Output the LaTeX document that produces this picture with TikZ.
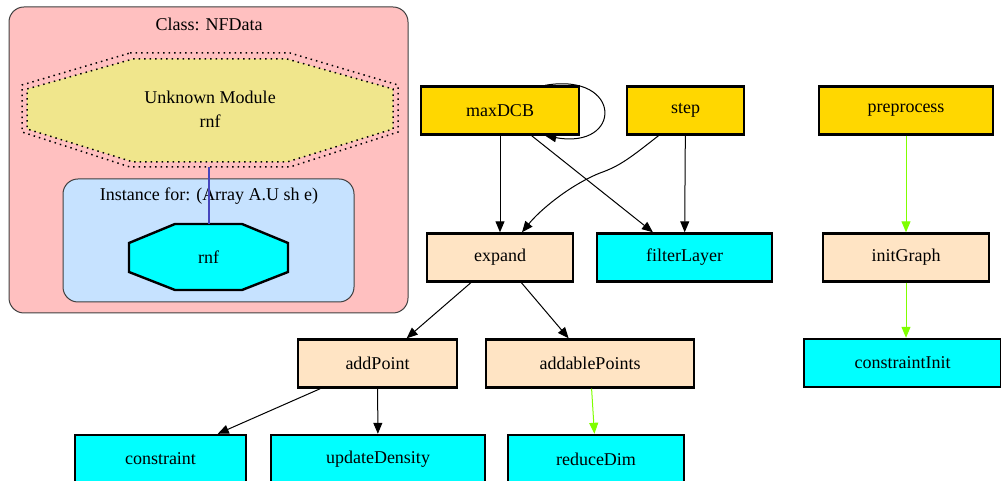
\documentclass[tikz,border=0pt]{standalone}
\usepackage{fontspec}
\setmainfont{Liberation Serif}
\usetikzlibrary{arrows.meta,calc}
\definecolor{clspink}{RGB}{255,192,192}
\definecolor{instblue}{RGB}{198,226,255}
\definecolor{modkhaki}{RGB}{240,230,140}
\definecolor{fngold}{RGB}{255,215,0}
\definecolor{fnbisque}{RGB}{255,228,196}
\definecolor{fncyan}{RGB}{0,255,255}
\definecolor{lgreen}{RGB}{127,255,0}
\definecolor{instline}{RGB}{70,70,190}
\begin{document}
\begin{tikzpicture}[x=1pt,y=1pt,
  font=\fontsize{18}{21}\selectfont,
  fn/.style={draw=black,line width=2.4pt,minimum height=48pt,inner sep=0pt},
  exported/.style={fn,fill=fngold},
  internal/.style={fn,fill=fnbisque},
  leaf/.style={fn,fill=fncyan},
  call/.style={-{Triangle[length=11pt,width=9pt]},line width=1pt},
  local/.style={call,color=lgreen}]
  \useasboundingbox (0,0) rectangle (1001,481);
  \clip (0,0) rectangle (1001,481);
  % Class cluster
  \draw[fill=clspink,draw=black!75,line width=1pt,rounded corners=15pt] (9,168) rectangle (408,474);
  \node (clstitle) at (209,457) {Class: NFData};
  \draw[dash pattern=on 1.5pt off 4pt,line width=1.5pt] (130,428) -- (290,428) -- (398,396) -- (398,349)
    -- (290,314) -- (130,314) -- (22,349) -- (22,396) -- cycle;
  \draw[fill=modkhaki,dash pattern=on 1.5pt off 4pt,line width=1.5pt] (133,422) -- (287,422) -- (393,392)
    -- (393,352) -- (287,319) -- (133,319) -- (27,352) -- (27,392) -- cycle;
  \node[align=center,font=\fontsize{18}{24}\selectfont] (unknown) at (210,372) {Unknown Module\\rnf};
  % Instance cluster
  \draw[fill=instblue,draw=black!75,line width=1pt,rounded corners=15pt] (63,179) rectangle (354,302);
  \node (insttitle) at (209,285) {Instance for: (Array A.U sh e)};
  \draw[fill=fncyan,line width=2.4pt] (175,257) -- (242,257) -- (288,238) -- (288,209) -- (242,191)
    -- (175,191) -- (129,209) -- (129,238) -- cycle;
  \node (rnf) at (208.5,224) {rnf};
  \coordinate (unkbot) at (209,314);
  \coordinate (rnftop) at (209,257);
  \draw[instline,line width=1.2pt] (unkbot) -- (rnftop);
  % Functions
  \node[exported,minimum width=158pt] (maxDCB) at (500,370.5) {maxDCB};
  \node[exported,minimum width=117pt] (step) at (685.5,370.5) {step};
  \node[exported,minimum width=174pt] (preprocess) at (906,370.5) {preprocess};
  \node[internal,minimum width=146pt] (expand) at (500,223.5) {expand};
  \node[leaf,minimum width=175pt] (filterLayer) at (684.5,223.5) {filterLayer};
  \node[internal,minimum width=166pt] (initGraph) at (906,223.5) {initGraph};
  \node[internal,minimum width=159pt] (addPoint) at (377.5,117.5) {addPoint};
  \node[internal,minimum width=208pt] (addablePoints) at (590,117.5) {addablePoints};
  \node[leaf,minimum width=197pt] (constraintInit) at (902.5,118) {constraintInit};
  \node[leaf,minimum width=171pt] (constraint) at (160.5,22) {constraint};
  \node[leaf,minimum width=214pt] (updateDensity) at (378,22) {updateDensity};
  \node[leaf,minimum width=176pt] (reduceDim) at (596,22) {reduceDim};
  % Calls
  \draw[call] ($(maxDCB.north east)+(-35,0)$) .. controls (623,409) and (623,331) .. ($(maxDCB.south east)+(-35,0)$);
  \draw[call] (maxDCB) -- (expand);
  \draw[call] (maxDCB) -- (filterLayer);
  \draw[call] ($(step.south)+(-27,0)$) .. controls (630,323) and (620,315) .. (600,308)
    .. controls (570,296) and (540,271) .. ($(expand.north)+(22,0)$);
  \draw[call] (step) -- (filterLayer);
  \draw[call] (expand) -- (addPoint);
  \draw[call] (expand) -- (addablePoints);
  \draw[call] (addPoint) -- (constraint);
  \draw[call] (addPoint) -- (updateDensity);
  \draw[local] (addablePoints) -- (reduceDim);
  \draw[local] (preprocess) -- (initGraph);
  \draw[local] (initGraph.south) -- (initGraph.south |- constraintInit.north);
\end{tikzpicture}
\end{document}
